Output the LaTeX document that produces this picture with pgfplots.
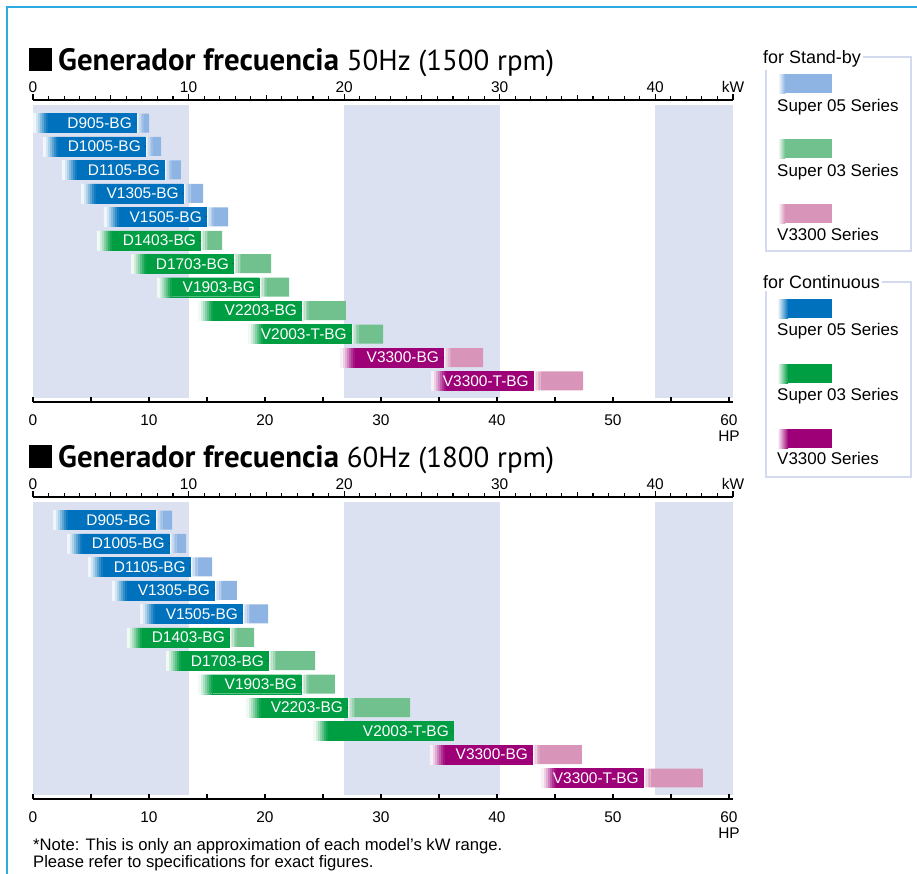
\documentclass[border=0pt]{standalone}
\usepackage{fontspec}
\setmainfont{Liberation Sans}
\newfontfamily\titlefamily{PT Sans}
\usepackage{pgfplots}
\pgfplotsset{compat=1.18}
\usepackage{pgfplotstable}

\definecolor{c05}{HTML}{0071BC}
\definecolor{c05l}{HTML}{8DB4E2}
\definecolor{c03}{HTML}{009E42}
\definecolor{c03l}{HTML}{70C18E}
\definecolor{cV}{HTML}{9E0078}
\definecolor{cVl}{HTML}{D894B9}
\definecolor{band}{HTML}{DCE1F1}
\definecolor{framec}{HTML}{2CABE3}
\definecolor{legline}{HTML}{D3D9EE}

\newcommand\tickfont{\fontsize{15.5}{18}\selectfont}
\newcommand\barfont{\fontsize{15.5}{18}\selectfont}
\newcommand\legfont{\fontsize{17}{20}\selectfont}
\newcommand\legtitlefont{\fontsize{18}{20}\selectfont}
\newcommand\notefont{\fontsize{16.7}{19}\selectfont}
\newcommand\titlebold{\titlefamily\bfseries\fontsize{31}{36}\selectfont}
\newcommand\titlereg{\titlefamily\mdseries\fontsize{29}{36}\selectfont}

% kW: start of range, end of continuous rating, end of stand-by rating
% 50 Hz (1500 rpm)
\pgfplotstableread{
row s c sb name
1 0.00 6.62 7.46 D905-BG
2 0.64 7.20 8.23 D1005-BG
3 1.86 8.42 9.51 D1105-BG
4 3.09 9.64 10.93 V1305-BG
5 4.56 11.12 12.54 V1505-BG
}\tabAb
\pgfplotstableread{
row s c sb name
6 4.11 10.74 12.15 D1403-BG
7 6.30 12.86 15.30 D1703-BG
8 7.97 14.53 16.46 V1903-BG
9 10.61 17.23 20.12 V2203-BG
10 13.82 20.44 22.50 V2003-T-BG
}\tabAg
\pgfplotstableread{
row s c sb name
11 19.74 26.36 28.93 V3300-BG
12 25.59 32.14 35.36 V3300-T-BG
}\tabAp
% 60 Hz (1800 rpm)
\pgfplotstableread{
row s c sb name
1 1.29 7.84 8.94 D905-BG
2 2.19 8.74 9.84 D1005-BG
3 3.54 10.09 11.51 D1105-BG
4 5.08 11.64 13.11 V1305-BG
5 6.88 13.44 15.11 V1505-BG
}\tabBb
\pgfplotstableread{
row s c sb name
6 6.04 12.60 14.21 D1403-BG
7 8.55 15.11 18.13 D1703-BG
8 10.61 17.23 19.41 V1903-BG
9 13.69 20.19 24.24 V2203-BG
10 18.00 27.00 27.00 V2003-T-BG
}\tabBg
\pgfplotstableread{
row s c sb name
11 25.52 32.08 35.29 V3300-BG
12 32.66 39.21 43.07 V3300-T-BG
}\tabBp

\newcommand\fw{0.9}  % fade-in at the start of a bar
\newcommand\gw{0.1}  % white gap before the stand-by part
\newcommand\sw{0.1}  % one step of the stand-by fade

\pgfplotsset{
  chartbase/.style={scale only axis, width=700bp, height=302bp,
    xmin=0, xmax=45, ymin=0.019, ymax=12.896, y dir=reverse,
    anchor=north west},
}

% one colour group of bars: #1 y of top axis line, #2 table, #3 continuous, #4 stand-by
\newcommand\groupbars[4]{%
  \begin{axis}[chartbase, at={(33bp,-#1bp)}, hide axis, xbar stacked, bar width=0.81]
    \addplot[draw=none, fill=none] table[x=s, y=row] {#2};
    \pgfplotsinvokeforeach{6,18,32,48,64,80,93}{%
      \addplot[fill=#3!##1!white, draw=#3!##1!white, line width=0.3bp]
        table[x expr=\fw/7, y=row] {#2};
    }
    \addplot[fill=#3, draw=#3, line width=0.3bp] table[x expr=\thisrow{c}-\thisrow{s}-\fw, y=row] {#2};
    \addplot[draw=none, fill=white] table[x expr={\thisrow{sb}>\thisrow{c} ? \gw : 0}, y=row] {#2};
    \pgfplotsinvokeforeach{30,50,70,87}{%
      \addplot[draw=none, fill=#4!##1!white] table[x expr={\thisrow{sb}>\thisrow{c} ? \sw : 0}, y=row] {#2};
    }
    \addplot[draw=none, fill=#4] table[x expr={max(\thisrow{sb}-\thisrow{c}-\gw-4*\sw,0)}, y=row] {#2};
  \end{axis}}

% model names, right-aligned at the end of the continuous part
\newcommand\barlabels[4]{%
  \begin{axis}[chartbase, at={(33bp,-#1bp)}, hide axis,
    every node near coord/.append style={anchor=east, xshift=-4bp, inner sep=0pt,
      text=white, font=\barfont}]
    \addplot[only marks, mark=*, mark size=0.1pt, mark options={draw=none, fill=none},
      nodes near coords, point meta=explicit symbolic] table[x=c, y=row, meta=name] {#2};
    \addplot[only marks, mark=*, mark size=0.1pt, mark options={draw=none, fill=none},
      nodes near coords, point meta=explicit symbolic] table[x=c, y=row, meta=name] {#3};
    \addplot[only marks, mark=*, mark size=0.1pt, mark options={draw=none, fill=none},
      nodes near coords, point meta=explicit symbolic] table[x=c, y=row, meta=name] {#4};
  \end{axis}}

% kW scale on top with the shaded bands, HP scale below
\newcommand\chartframe[1]{%
  \begin{axis}[chartbase, at={(33bp,-#1bp)},
    axis x line*=top, axis y line=none,
    axis line style={line width=1.5bp},
    tick align=outside, major tick length=6bp, minor tick length=4bp,
    tick style={line width=1.1bp, black},
    xtick={0,10,20,30,40,45}, xticklabels={0,10,20,30,40,kW},
    minor xtick={1,2,...,44},
    extra x ticks={5,15,25,35}, extra x tick labels={},
    extra x tick style={major tick length=5bp},
    xticklabel style={font=\tickfont, inner sep=0pt, yshift=1.5bp},
    /pgf/number format/assume math mode=true]
    \addplot[draw=none, fill=band] coordinates {(0,0.232)(10,0.232)(10,12.725)(0,12.725)} -- cycle;
    \addplot[draw=none, fill=band] coordinates {(20,0.232)(30,0.232)(30,12.725)(20,12.725)} -- cycle;
    \addplot[draw=none, fill=band] coordinates {(40,0.232)(45,0.232)(45,12.725)(40,12.725)} -- cycle;
  \end{axis}
  \begin{axis}[scale only axis, width=700bp, height=302bp, at={(33bp,-#1bp)}, anchor=north west,
    xmin=0, xmax=60.346, ymin=0, ymax=1,
    axis x line*=bottom, axis y line=none,
    axis line style={line width=1.5bp},
    xtick={0,10,...,60}, minor xtick={5,15,...,55},
    tick align=inside, major tick length=5bp, minor tick length=5bp,
    tick style={line width=1.3bp, black},
    xticklabel style={font=\tickfont, inner sep=0pt, yshift=-12.5bp},
    xlabel=HP,
    every axis x label/.style={at={(axis description cs:0.9943,0)}, anchor=north,
      inner sep=0pt, yshift=-29bp, font=\tickfont},
    /pgf/number format/assume math mode=true]
  \end{axis}}

\begin{document}
\begin{tikzpicture}
\path[use as bounding box] (0,0) rectangle (917bp,-874bp);
\draw[framec, line width=2bp] (7bp,-874bp) -- (7bp,-7bp) -- (917bp,-7bp);

% 50 Hz
\fill (29bp,-48bp) rectangle (52bp,-71bp);
\node[anchor=base west, inner sep=0pt] at (58bp,-70bp)
  {\titlebold Generador frecuencia \titlereg 50Hz (1500 rpm)};
\chartframe{100}
\groupbars{100}{\tabAb}{c05}{c05l}
\groupbars{100}{\tabAg}{c03}{c03l}
\groupbars{100}{\tabAp}{cV}{cVl}
\barlabels{100}{\tabAb}{\tabAg}{\tabAp}

% 60 Hz
\fill (29bp,-445bp) rectangle (52bp,-468bp);
\node[anchor=base west, inner sep=0pt] at (58bp,-467bp)
  {\titlebold Generador frecuencia \titlereg 60Hz (1800 rpm)};
\chartframe{497}
\groupbars{497}{\tabBb}{c05}{c05l}
\groupbars{497}{\tabBg}{c03}{c03l}
\groupbars{497}{\tabBp}{cV}{cVl}
\barlabels{497}{\tabBb}{\tabBg}{\tabBp}

% legend
\begin{scope}[font=\legfont]
  \draw[legline, line width=1.8bp] (766bp,-57bp) rectangle (911bp,-251bp);
  \node[fill=white, anchor=base west, inner xsep=2bp, inner ysep=3bp, font=\legtitlefont]
    at (761bp,-63bp) {for Stand-by};
  \draw[legline, line width=1.8bp] (766bp,-282bp) rectangle (911bp,-477bp);
  \node[fill=white, anchor=base west, inner xsep=2bp, inner ysep=3bp, font=\legtitlefont]
    at (761bp,-288bp) {for Continuous};
  \foreach \top/\col in {74/c05l, 139/c03l, 204/cVl}{
    \shade[left color=white, right color=\col] (778bp,-\top bp) rectangle (785bp,-\top bp-19bp);
    \fill[\col] (784.7bp,-\top bp) rectangle (832bp,-\top bp-19bp);
  }
  \foreach \top/\col in {299/c05, 364/c03, 429/cV}{
    \shade[left color=\col!6!white, right color=\col] (778bp,-\top bp) rectangle (788bp,-\top bp-19bp);
    \fill[\col] (787.7bp,-\top bp) rectangle (832bp,-\top bp-19bp);
  }
  \node[anchor=base west, inner sep=0pt] at (777bp,-111bp) {Super 05 Series};
  \node[anchor=base west, inner sep=0pt] at (777bp,-176bp) {Super 03 Series};
  \node[anchor=base west, inner sep=0pt] at (777bp,-240bp) {V3300 Series};
  \node[anchor=base west, inner sep=0pt] at (777bp,-335bp) {Super 05 Series};
  \node[anchor=base west, inner sep=0pt] at (777bp,-400bp) {Super 03 Series};
  \node[anchor=base west, inner sep=0pt] at (777bp,-464bp) {V3300 Series};
\end{scope}

\node[anchor=base west, inner sep=0pt, font=\notefont] at (33bp,-850bp)
  {*Note: This is only an approximation of each model’s kW range.};
\node[anchor=base west, inner sep=0pt, font=\notefont] at (33bp,-867bp)
  {Please refer to specifications for exact figures.};
\end{tikzpicture}
\end{document}
